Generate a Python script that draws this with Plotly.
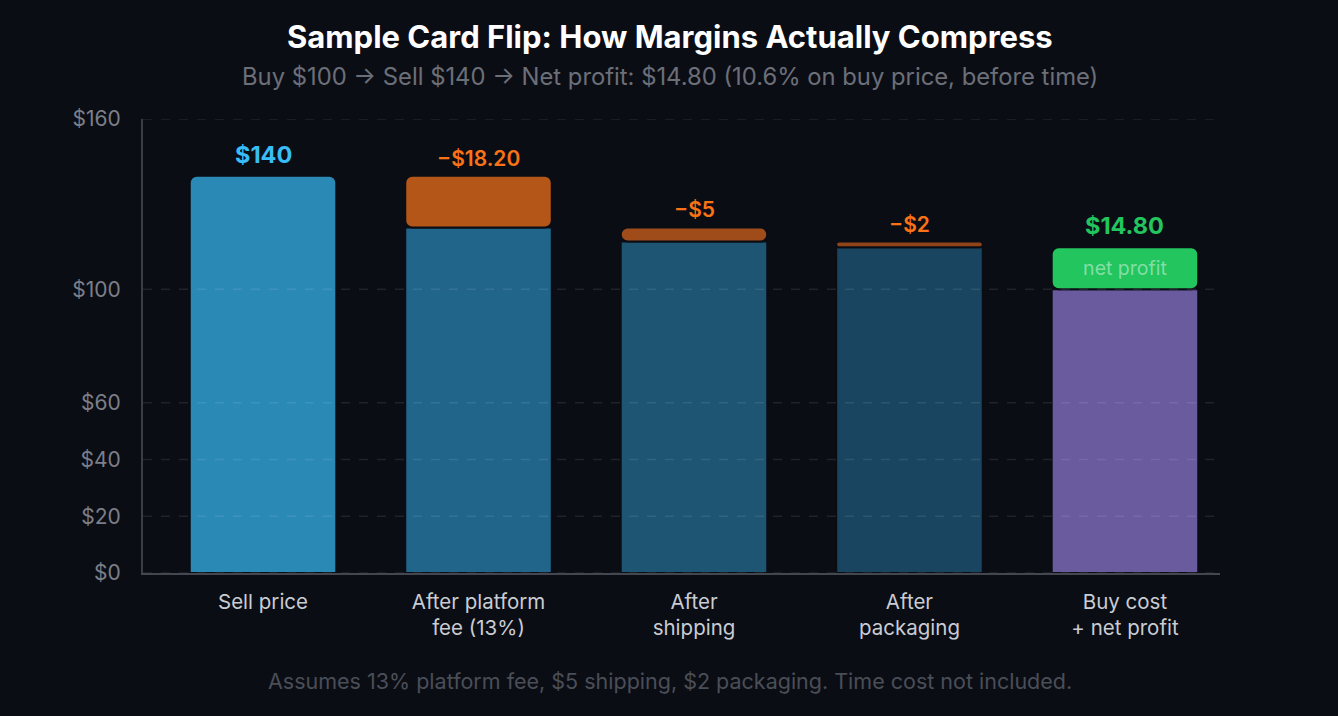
import plotly.graph_objects as go

categories = ["Sell price", "After platform<br>fee (13%)", "After<br>shipping", "After<br>packaging", "Buy cost<br>+ net profit"]
remaining = [140.0, 121.8, 116.8, 114.8, 100.0]
deductions = [None, 18.2, 5.0, 2.0, 14.8]
value_labels = ["$140", "−$18.20", "−$5", "−$2", "$14.80"]
label_colors = ["#38bdf8", "#f97316", "#f97316", "#f97316", "#22c55e"]
base_colors = ["#2b89b6", "#22658a", "#1e5573", "#1a4560", "#6a5a9e"]
top_colors = ["#b45618", "#b45618", "#9f4c1a", "#8f4419", "#22c55e"]
top_text = ["", "", "", "", "net profit"]
y_ticks = [0, 20, 40, 60, 100, 160]
y_ticktext = ["$0", "$20", "$40", "$60", "$100", "$160"]

BG = "#0b0d15"
FONT = "Inter, Roboto, sans-serif"

# plot area in pixels
PL, PR, PT, PB = 143, 1220, 119, 573


def px_x(px):
    return (px - PL) / (PR - PL)


def px_y(py):
    return (PB - py) / (PB - PT)


fig = go.Figure()
fig.add_trace(go.Bar(
    x=categories, y=remaining,
    marker=dict(color=base_colors, line=dict(color=BG, width=2)),
    hoverinfo="skip", showlegend=False,
))
fig.add_trace(go.Bar(
    x=categories, y=deductions, base=remaining,
    marker=dict(color=top_colors, line=dict(color=BG, width=2)),
    text=top_text, textposition="inside", insidetextanchor="middle",
    textfont=dict(family=FONT, size=19.5, color="rgba(255,255,255,0.45)"),
    hoverinfo="skip", showlegend=False,
))

tops = [r + (d or 0) for r, d in zip(remaining, deductions)]
for i, (c, t, lab, col) in enumerate(zip(categories, tops, value_labels, label_colors)):
    bold = i in (0, 4)
    fig.add_annotation(
        x=c, y=t, xref="x", yref="y", text=lab,
        showarrow=False, yanchor="bottom", yshift=5 if bold else 3,
        font=dict(family=FONT, size=23.5 if bold else 21, color=col, weight=700 if bold else 600),
    )

for v in y_ticks:
    fig.add_shape(type="line", xref="paper", x0=0, x1=1, yref="y", y0=v, y1=v,
                  line=dict(color="rgba(255,255,255,0.09)", width=1.5, dash="dash"),
                  layer="above")

fig.add_annotation(x=px_x(670), y=px_y(37), xref="paper", yref="paper",
                   text="Sample Card Flip: How Margins Actually Compress",
                   showarrow=False, yanchor="middle",
                   font=dict(family=FONT, size=31, color="#ffffff", weight=700))
fig.add_annotation(x=px_x(670), y=px_y(77), xref="paper", yref="paper",
                   text="Buy $100 → Sell $140 → Net profit: $14.80 (10.6% on buy price, before time)",
                   showarrow=False, yanchor="middle",
                   font=dict(family=FONT, size=23.8, color="#6b6f78"))
fig.add_annotation(x=px_x(670), y=px_y(681), xref="paper", yref="paper",
                   text="Assumes 13% platform fee, $5 shipping, $2 packaging. Time cost not included.",
                   showarrow=False, yanchor="middle",
                   font=dict(family=FONT, size=21.5, color="#4a4e57"))

fig.update_layout(
    width=1338, height=716,
    margin=dict(l=PL, r=1338 - PR, t=PT, b=716 - PB),
    paper_bgcolor=BG, plot_bgcolor=BG,
    barmode="overlay", bargap=0.32, barcornerradius=7,
    font=dict(family=FONT),
    xaxis=dict(
        range=[-0.557, 4.441], showgrid=False, ticks="outside", ticklen=9, tickcolor=BG,
        tickfont=dict(family=FONT, size=20.5, color="#c9ccd2"),
        showline=True, linecolor="#44474f", linewidth=2, zeroline=False,
    ),
    yaxis=dict(
        range=[0, 160], tickvals=y_ticks, ticktext=y_ticktext, showgrid=False,
        ticks="outside", ticklen=16, tickcolor=BG,
        tickfont=dict(family=FONT, size=21, color="#7b7f88"),
        showline=True, linecolor="#3a3d45", linewidth=2, zeroline=False,
    ),
)

fig.write_html("out.html")
